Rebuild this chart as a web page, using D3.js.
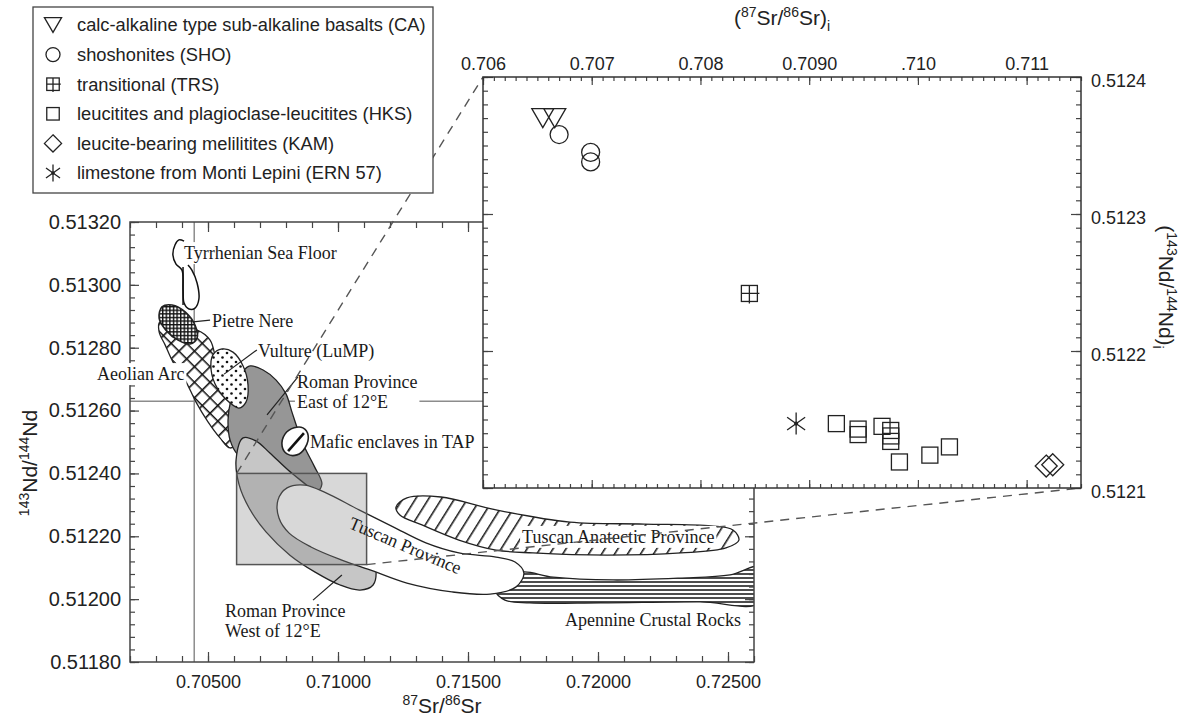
<!DOCTYPE html>
<html>
<head>
<meta charset="utf-8">
<script src="https://cdn.jsdelivr.net/npm/d3@7/dist/d3.min.js"></script>
<style>
html,body{margin:0;padding:0;background:#fff;}
svg{display:block;}
</style>
</head>
<body>
<svg id="chart" width="1190" height="726"></svg>
<script>
// ================= DATA =================
// main plot ticks
const mainXTicks = [0.705, 0.710, 0.715, 0.720, 0.725];
const mainXTickLabels = ["0.70500", "0.71000", "0.71500", "0.72000", "0.72500"];
const mainYTicks = [0.5118, 0.5120, 0.5122, 0.5124, 0.5126, 0.5128, 0.5130, 0.5132];
const mainYTickLabels = ["0.51180", "0.51200", "0.51220", "0.51240", "0.51260", "0.51280", "0.51300", "0.51320"];
// inset ticks
const insetXTicks = [0.706, 0.707, 0.708, 0.709, 0.710, 0.711];
const insetXTickLabels = ["0.706", "0.707", "0.708", "0.7090", ".710", "0.711"];
const insetYTicks = [0.5121, 0.5122, 0.5123, 0.5124];
const insetYTickLabels = ["0.5121", "0.5122", "0.5123", "0.5124"];

// inset samples [87Sr/86Sr, 143Nd/144Nd]
const caPoints  = [[0.70655, 0.51237], [0.70666, 0.51237]];
const shoPoints = [[0.70670, 0.512358], [0.70699, 0.512345], [0.70699, 0.512338]];
const trsPoints = [[0.70845, 0.512242]];
const hksPoints = [[0.70925, 0.512147], [0.70945, 0.512143], [0.70945, 0.512139], [0.70967, 0.512145],
                   [0.70975, 0.512142], [0.70975, 0.512138], [0.70975, 0.512134], [0.70983, 0.512119],
                   [0.71011, 0.512124], [0.71029, 0.512130]];
const kamPoints = [[0.71118, 0.512116], [0.71124, 0.512117]];
const ernPoints = [[0.70888, 0.512147]];

const legendLabels = [
  "calc-alkaline type sub-alkaline basalts (CA)",
  "shoshonites (SHO)",
  "transitional (TRS)",
  "leucitites and plagioclase-leucitites (HKS)",
  "leucite-bearing melilitites (KAM)",
  "limestone from Monti Lepini (ERN 57)"
];
const legendMarkers = ["tri", "circ", "trs", "sq", "dia", "ast"];

// reference lines (bulk earth) in main plot
const refSr = 0.70447;
const refNd = 0.51263;

// zoom box in main plot (area enlarged in inset)
const zoomBoxSr = [0.7061, 0.7111];
const zoomBoxNd = [0.51211, 0.5124];

// field outlines in main plot [87Sr/86Sr, 143Nd/144Nd]
const tyrrhenianSeaFloor = [[0.70408,0.513139],[0.70388,0.513143],[0.70373,0.513127],[0.70365,0.513095],
  [0.70377,0.513066],[0.70400,0.513047],[0.70404,0.512984],[0.70408,0.512942],[0.70427,0.512923],
  [0.70450,0.512926],[0.70465,0.512955],[0.70458,0.513006],[0.70438,0.513047],[0.70423,0.513063]];
const tyrrhenianInner = [[0.70404,0.513057],[0.70404,0.512936]];
const pietreNere = [[0.70323,0.512930],[0.70362,0.512936],[0.70412,0.512914],[0.70450,0.512872],
  [0.70458,0.512831],[0.70431,0.512812],[0.70385,0.512824],[0.70338,0.512856],[0.70312,0.512894]];
const aeolianArc = [[0.70315,0.512882],[0.70373,0.512863],[0.70458,0.512856],[0.70508,0.512824],
  [0.70531,0.512761],[0.70554,0.512697],[0.70585,0.512634],[0.70615,0.512570],[0.70623,0.512506],
  [0.70585,0.512481],[0.70546,0.512513],[0.70500,0.512564],[0.70454,0.512627],[0.70412,0.512697],
  [0.70365,0.512755],[0.70335,0.512809],[0.70312,0.512850]];
const vulture = [[0.70554,0.512796],[0.70596,0.512786],[0.70635,0.512742],[0.70654,0.512681],
  [0.70646,0.512627],[0.70619,0.512608],[0.70581,0.512627],[0.70535,0.512672],[0.70512,0.512729],
  [0.70519,0.512777]];
const romanEast = [[0.70662,0.512742],[0.70712,0.512729],[0.70762,0.512697],[0.70800,0.512653],
  [0.70823,0.512595],[0.70846,0.512538],[0.70873,0.512481],[0.70908,0.512424],[0.70938,0.512366],
  [0.70915,0.512341],[0.70846,0.512354],[0.70762,0.512385],[0.70681,0.512424],[0.70615,0.512459],
  [0.70585,0.512506],[0.70577,0.512570],[0.70588,0.512634],[0.70612,0.512691],[0.70635,0.512726]];
const romanWest = [[0.70635,0.512513],[0.70685,0.512503],[0.70738,0.512465],[0.70808,0.512411],
  [0.70892,0.512354],[0.70981,0.512290],[0.71062,0.512220],[0.71119,0.512156],[0.71146,0.512093],
  [0.71135,0.512045],[0.71085,0.512029],[0.71008,0.512045],[0.70912,0.512086],[0.70815,0.512140],
  [0.70723,0.512214],[0.70658,0.512290],[0.70619,0.512366],[0.70608,0.512443]];
const tuscanProvince = [[0.70769,0.512315],[0.70804,0.512354],[0.70873,0.512363],[0.70954,0.512338],
  [0.71081,0.512284],[0.71212,0.512230],[0.71338,0.512179],[0.71465,0.512147],[0.71608,0.512134],
  [0.71681,0.512118],[0.71715,0.512083],[0.71685,0.512039],[0.71585,0.512016],[0.71438,0.512023],
  [0.71265,0.512051],[0.71123,0.512093],[0.71012,0.512125],[0.70896,0.512166],[0.70812,0.512210],
  [0.70773,0.512258]];
const tuscanAnatectic = [[0.71223,0.512293],[0.71265,0.512322],[0.71396,0.512325],[0.71608,0.512284],
  [0.71892,0.512245],[0.72177,0.512239],[0.72435,0.512233],[0.72519,0.512220],[0.72542,0.512188],
  [0.72492,0.512163],[0.72319,0.512147],[0.72035,0.512140],[0.71750,0.512147],[0.71608,0.512156],
  [0.71465,0.512188],[0.71323,0.512236],[0.71238,0.512268]];
const apennineCrustal = [[0.71604,0.512029],[0.71650,0.512061],[0.71708,0.512086],[0.71827,0.512070],
  [0.72058,0.512061],[0.72315,0.512067],[0.72508,0.512077],[0.72620,0.512102],[0.72620,0.511988],
  [0.72392,0.511991],[0.72008,0.511988],[0.71738,0.511988],[0.71642,0.511997]];
const maficEnclaves = [[0.70865,0.512545],[0.70885,0.512522],[0.70873,0.512481],[0.70842,0.512459],
  [0.70804,0.512462],[0.70785,0.512487],[0.70796,0.512525],[0.70831,0.512545]];
const maficStripe = [[0.70808,0.512471],[0.70869,0.512528]];

const leaderLines = [
  [[0.70442,0.512882],[0.70508,0.512888]],
  [[0.70562,0.512716],[0.70688,0.512793]],
  [[0.70727,0.512586],[0.70846,0.512707]],
  [[0.70904,0.511997],[0.71015,0.512077]]
];

const fieldLabels = [
  {lines:["Tyrrhenian Sea Floor"], sr:0.70408, nd:0.513082, bg:true},
  {lines:["Pietre Nere"], sr:0.70515, nd:0.512866},
  {lines:["Vulture (LuMP)"], sr:0.70692, nd:0.512770},
  {lines:["Roman Province","East of 12°E"], sr:0.70842, nd:0.512672, bg:true},
  {lines:["Mafic enclaves in TAP"], sr:0.70892, nd:0.512481},
  {lines:["Aeolian Arc"], sr:0.70073, nd:0.512697, bg:true},
  {lines:["Tuscan Province"], sr:0.71250, nd:0.512153, rot:23, anchor:"middle"},
  {lines:["Tuscan Anatectic Province"], sr:0.71708, nd:0.512179, bg:true},
  {lines:["Apennine Crustal Rocks"], sr:0.71873, nd:0.511915},
  {lines:["Roman Province","West of 12°E"], sr:0.70565, nd:0.511943}
];

// ================= RENDER =================
const SANS = "'Liberation Sans', Arial, Helvetica, sans-serif";
const SERIF = "'Liberation Serif', 'Times New Roman', serif";
const svg = d3.select("#chart");
const defs = svg.append("defs");

const xM = d3.scaleLinear().domain([0.702, 0.726]).range([130, 754]);
const yM = d3.scaleLinear().domain([0.5118, 0.5132]).range([662, 222]);
const xI = d3.scaleLinear().domain([0.706, 0.7115]).range([483, 1081]);
const yI = d3.scaleLinear().domain([0.5121, 0.5124]).range([488, 77]);

// patterns
function pattern(id, w, h, rot, draw) {
  const p = defs.append("pattern").attr("id", id).attr("patternUnits", "userSpaceOnUse")
    .attr("width", w).attr("height", h);
  if (rot) p.attr("patternTransform", `rotate(${rot})`);
  p.append("rect").attr("width", w).attr("height", h).attr("fill", "#fff");
  draw(p);
}
pattern("pGrid", 3.6, 3.6, 0, p => p.append("path").attr("d", "M0,0.7H3.6M0.7,0V3.6").attr("stroke", "#111").attr("stroke-width", 1.4));
pattern("pCross", 11, 11, 45, p => p.append("path").attr("d", "M0,0.8H11M0.8,0V11").attr("stroke", "#111").attr("stroke-width", 1.6));
pattern("pDots", 9, 9, 0, p => {
  p.append("circle").attr("cx", 2).attr("cy", 2).attr("r", 1.3).attr("fill", "#111");
  p.append("circle").attr("cx", 6.5).attr("cy", 6.5).attr("r", 1.3).attr("fill", "#111");
});
pattern("pDiag", 11, 11, 32, p => p.append("path").attr("d", "M0.8,0V11").attr("stroke", "#111").attr("stroke-width", 1.5));
pattern("pHoriz", 10, 4, 0, p => p.append("path").attr("d", "M0,2H10").attr("stroke", "#111").attr("stroke-width", 1.5));

defs.append("clipPath").attr("id", "mainClip").append("rect")
  .attr("x", xM.range()[0]).attr("y", yM.range()[1])
  .attr("width", xM.range()[1] - xM.range()[0]).attr("height", yM.range()[0] - yM.range()[1]);

const plot = svg.append("g").attr("clip-path", "url(#mainClip)");

// reference lines
plot.append("line").attr("x1", xM(refSr)).attr("x2", xM(refSr)).attr("y1", yM.range()[0]).attr("y2", yM.range()[1])
  .attr("stroke", "#8c8c8c").attr("stroke-width", 1.5);
plot.append("line").attr("x1", xM.range()[0]).attr("x2", xM.range()[1]).attr("y1", yM(refNd)).attr("y2", yM(refNd))
  .attr("stroke", "#8c8c8c").attr("stroke-width", 1.5);

const closedLine = d3.line().x(d => xM(d[0])).y(d => yM(d[1])).curve(d3.curveCatmullRomClosed.alpha(0.5));
const openLine = d3.line().x(d => xM(d[0])).y(d => yM(d[1])).curve(d3.curveCatmullRom.alpha(0.5));
const straight = d3.line().x(d => xM(d[0])).y(d => yM(d[1]));

function field(data, fill, sw) {
  plot.append("path").attr("d", closedLine(data)).attr("fill", fill)
    .attr("stroke", "#222").attr("stroke-width", sw || 1.3).attr("stroke-linejoin", "round");
}
plot.append("path").attr("d", closedLine(apennineCrustal)).attr("fill", "url(#pHoriz)")
  .attr("stroke", "#222").attr("stroke-width", 1.3);
field(tuscanAnatectic, "url(#pDiag)");
field(aeolianArc, "url(#pCross)");
field(romanEast, "#969696");
field(vulture, "url(#pDots)");
field(romanWest, "#c6c6c6");
field(tuscanProvince, "#ffffff");
field(maficEnclaves, "#ffffff", 1.6);
plot.append("path").attr("d", straight(maficStripe)).attr("stroke", "#111").attr("stroke-width", 2.6);
field(pietreNere, "url(#pGrid)", 1.6);
plot.append("path").attr("d", openLine(tyrrhenianSeaFloor)).attr("fill", "#fff")
  .attr("stroke", "#111").attr("stroke-width", 1.5);
plot.append("path").attr("d", straight(tyrrhenianInner)).attr("stroke", "#111").attr("stroke-width", 1.5);

// zoom rectangle (semi transparent)
plot.append("rect").attr("x", xM(zoomBoxSr[0])).attr("y", yM(zoomBoxNd[1]))
  .attr("width", xM(zoomBoxSr[1]) - xM(zoomBoxSr[0])).attr("height", yM(zoomBoxNd[0]) - yM(zoomBoxNd[1]))
  .attr("fill", "#8a8a8a").attr("fill-opacity", 0.33).attr("stroke", "#555").attr("stroke-width", 1.5);

// ---- axes helper
function axis(gT, fn, scale, values, size, fmt, pad, fs) {
  const g = svg.append("g").attr("transform", gT);
  g.call(fn(scale).tickValues(values).tickSize(size).tickSizeOuter(0).tickPadding(pad || 3)
    .tickFormat(fmt || (() => "")));
  g.select(".domain").remove();
  g.attr("font-family", SANS).attr("font-size", fs || 18);
  g.selectAll(".tick line").attr("stroke", "#444").attr("stroke-width", 1.2);
  g.selectAll(".tick text").attr("fill", "#222");
  return g;
}
const mainXMinor = d3.range(0, 25).map(i => 0.702 + i * 0.001);
const mainYMinor = d3.range(0, 36).map(i => 0.5118 + i * 0.00004);
const [mx0, mx1] = xM.range();
const [my0, my1] = yM.range();
axis(`translate(0,${my0})`, d3.axisBottom, xM, mainXMinor, -6);
axis(`translate(0,${my0})`, d3.axisBottom, xM, mainXTicks, -10, (d, i) => mainXTickLabels[i], 13);
axis(`translate(0,${my1})`, d3.axisTop, xM, mainXMinor, -6);
axis(`translate(0,${my1})`, d3.axisTop, xM, mainXTicks, -10);
axis(`translate(${mx0},0)`, d3.axisLeft, yM, mainYMinor, -5);
axis(`translate(${mx0},0)`, d3.axisLeft, yM, mainYTicks, -9, (d, i) => mainYTickLabels[i], 9, 20);
axis(`translate(${mx1},0)`, d3.axisRight, yM, mainYMinor, -5);
axis(`translate(${mx1},0)`, d3.axisRight, yM, mainYTicks, -9);
svg.append("rect").attr("x", mx0).attr("y", my1).attr("width", mx1 - mx0).attr("height", my0 - my1)
  .attr("fill", "none").attr("stroke", "#444").attr("stroke-width", 1.5);

// axis titles (main)
function isoTitle(sel, parts) {
  parts.forEach(p => {
    const t = sel.append("tspan").text(p[0]);
    if (p[1] === "sup") t.attr("font-size", 14).attr("dy", -8);
    else if (p[1] === "sub") t.attr("font-size", 14).attr("dy", 6);
    else if (p[1] === "back") t.attr("dy", 8);
  });
}
const xt = svg.append("text").attr("x", 442).attr("y", 713).attr("text-anchor", "middle")
  .attr("font-family", SANS).attr("font-size", 21).attr("fill", "#222");
isoTitle(xt, [["87","sup"],["Sr/","back"],["86","sup"],["Sr","back"]]);

const yt = svg.append("text").attr("transform", "translate(37,463) rotate(-90)").attr("text-anchor", "middle")
  .attr("font-family", SANS).attr("font-size", 21).attr("fill", "#222");
isoTitle(yt, [["143","sup"],["Nd/","back"],["144","sup"],["Nd","back"]]);

// field labels
const labLayer = svg.append("g");
fieldLabels.forEach(lab => {
  const g = labLayer.append("g")
    .attr("transform", `translate(${xM(lab.sr)},${yM(lab.nd)})` + (lab.rot ? ` rotate(${lab.rot})` : ""));
  const t = g.append("text").attr("font-family", SERIF).attr("font-size", 18).attr("fill", "#1a1a1a")
    .attr("text-anchor", lab.anchor || "start");
  lab.lines.forEach((s, i) => t.append("tspan").attr("x", 0).attr("y", i * 20).text(s));
  if (lab.bg) {
    const b = t.node().getBBox();
    g.insert("rect", "text").attr("x", b.x - 2).attr("y", b.y - 1).attr("width", b.width + 4)
      .attr("height", b.height + 2).attr("fill", "#fff");
  }
});
leaderLines.forEach(l => labLayer.append("path").attr("d", straight(l)).attr("stroke", "#222").attr("stroke-width", 1.2));

// dashed connectors from zoom box to inset corners
const conn = svg.append("g").attr("stroke", "#555").attr("stroke-width", 1.4).attr("stroke-dasharray", "9,7");
conn.append("line").attr("x1", xM(zoomBoxSr[0])).attr("y1", yM(zoomBoxNd[1]))
  .attr("x2", xI(0.706)).attr("y2", yI(0.5124));
conn.append("line").attr("x1", xM(zoomBoxSr[1])).attr("y1", yM(zoomBoxNd[0]))
  .attr("x2", xI(0.7115)).attr("y2", yI(0.5121));

// ================= INSET =================
const [ix0, ix1] = xI.range();
const [iy0, iy1] = yI.range();
svg.append("rect").attr("x", ix0).attr("y", iy1).attr("width", ix1 - ix0).attr("height", iy0 - iy1).attr("fill", "#fff");
const insetXMinor = d3.range(0, 56).map(i => 0.706 + i * 0.0001);
const insetYMinor = d3.range(0, 31).map(i => 0.5121 + i * 0.00001);
axis(`translate(0,${iy1})`, d3.axisTop, xI, insetXMinor, -4);
axis(`translate(0,${iy1})`, d3.axisTop, xI, insetXTicks, -8, (d, i) => insetXTickLabels[i], 7);
axis(`translate(0,${iy0})`, d3.axisBottom, xI, insetXMinor, -4);
axis(`translate(0,${iy0})`, d3.axisBottom, xI, insetXTicks, -8);
axis(`translate(${ix0},0)`, d3.axisLeft, yI, insetYMinor, -5);
axis(`translate(${ix0},0)`, d3.axisLeft, yI, insetYTicks, -10);
axis(`translate(${ix1},0)`, d3.axisRight, yI, insetYMinor, -5);
const gyr = axis(`translate(${ix1},0)`, d3.axisRight, yI, insetYTicks, -10, (d, i) => insetYTickLabels[i], 10);
gyr.selectAll(".tick text").attr("dy", "0.5em");
svg.append("rect").attr("x", ix0).attr("y", iy1).attr("width", ix1 - ix0).attr("height", iy0 - iy1)
  .attr("fill", "none").attr("stroke", "#333").attr("stroke-width", 1.5);

// inset titles
const it = svg.append("text").attr("x", 782).attr("y", 25).attr("text-anchor", "middle")
  .attr("font-family", SANS).attr("font-size", 21).attr("fill", "#222");
isoTitle(it, [["(",""],["87","sup"],["Sr/","back"],["86","sup"],["Sr)","back"],["i","sub"]]);

const rt = svg.append("text").attr("transform", "translate(1159,287) rotate(90)").attr("text-anchor", "middle")
  .attr("font-family", SANS).attr("font-size", 21).attr("fill", "#222");
isoTitle(rt, [["(",""],["143","sup"],["Nd/","back"],["144","sup"],["Nd)","back"],["i","sub"]]);

// markers
function marker(g, type, cx, cy, k) {
  const s = g.append("g").attr("transform", `translate(${cx},${cy})`)
    .attr("fill", "none").attr("stroke", "#222").attr("stroke-width", 1.3);
  if (type === "tri") s.append("path").attr("d", `M${-11 * k},${-9.5 * k}L${11 * k},${-9.5 * k}L0,${9.5 * k}Z`);
  else if (type === "circ") s.append("circle").attr("r", 9 * k);
  else if (type === "trs") {
    s.append("rect").attr("x", -8 * k).attr("y", -8 * k).attr("width", 16 * k).attr("height", 16 * k);
    s.append("path").attr("d", `M${-8 * k},0H${10 * k}M0,${-8 * k}V${10 * k}`);
  } else if (type === "sq") s.append("rect").attr("x", -8 * k).attr("y", -8 * k).attr("width", 16 * k).attr("height", 16 * k);
  else if (type === "dia") s.append("path").attr("d", `M0,${-11 * k}L${11 * k},0L0,${11 * k}L${-11 * k},0Z`);
  else if (type === "ast") {
    [90, 35, 145].forEach(a => {
      const r = 11 * k, dx = r * Math.cos(a * Math.PI / 180), dy = r * Math.sin(a * Math.PI / 180);
      s.append("line").attr("x1", -dx).attr("y1", -dy).attr("x2", dx).attr("y2", dy);
    });
    s.append("circle").attr("r", 1.4 * k).attr("fill", "#222");
  }
}
const pts = svg.append("g");
[[caPoints, "tri"], [shoPoints, "circ"], [trsPoints, "trs"], [hksPoints, "sq"], [kamPoints, "dia"], [ernPoints, "ast"]]
  .forEach(([arr, type]) => arr.forEach(d => marker(pts, type, xI(d[0]), yI(d[1]), 1)));

// ================= LEGEND =================
const lg = svg.append("g");
lg.append("rect").attr("x", 33).attr("y", 7).attr("width", 400).attr("height", 186)
  .attr("fill", "#fff").attr("stroke", "#444").attr("stroke-width", 1.3);
legendLabels.forEach((lab, i) => {
  const cy = 25 + i * 29.6;
  marker(lg, legendMarkers[i], 53, cy, 0.78);
  lg.append("text").attr("x", 77).attr("y", cy).attr("dy", "0.35em")
    .attr("font-family", SANS).attr("font-size", 18.3).attr("fill", "#222").text(lab);
});
</script>
</body>
</html>
